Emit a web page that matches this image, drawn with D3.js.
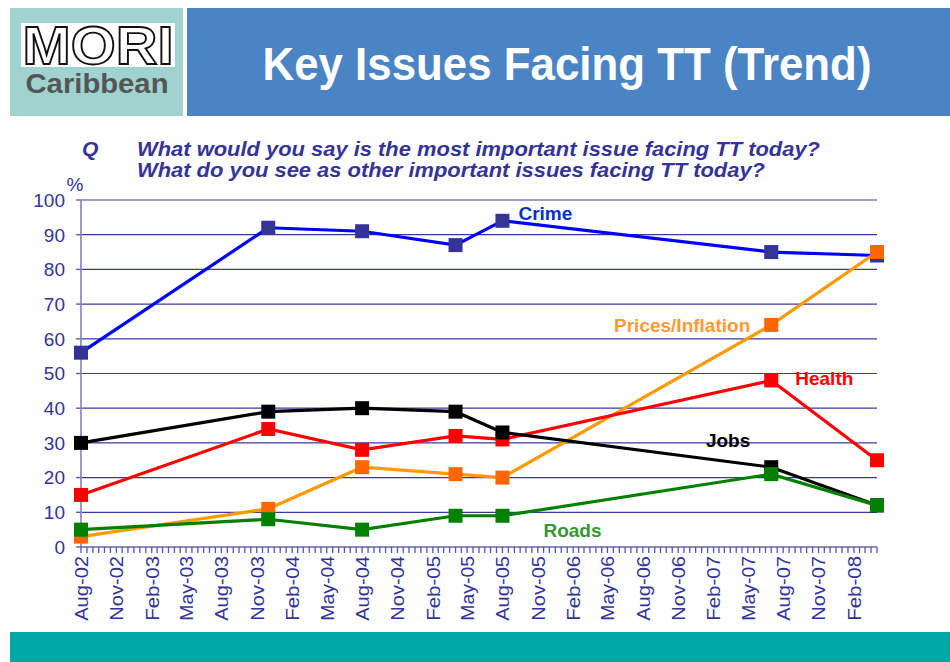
<!DOCTYPE html>
<html><head><meta charset="utf-8">
<script src="https://cdn.jsdelivr.net/npm/d3@7"></script>
<style>body{margin:0;background:#fff;} svg{display:block;font-family:"Liberation Sans",Arial,sans-serif;}</style>
</head><body>
<svg id="c" width="950" height="662"></svg>
<script>
// ---- data ----
const dates = ["2002-08","2003-12","2004-08","2005-04","2005-08","2007-07","2008-04"];
const crime  = [56,92,91,87,94,85,84];
const prices = [3,11,23,21,20,64,85];
const health = [15,34,28,32,31,48,25];
const jobs   = [30,39,40,39,33,23,12];
const roads  = [5,8,5,9,9,21,12];
const seriesNames = ["Crime","Prices/Inflation","Health","Jobs","Roads"];
const yTicks = [0,10,20,30,40,50,60,70,80,90,100];
const axisStart = "2002-08", axisEnd = "2008-04";

const parse = d3.timeParse("%Y-%m");
const fmt = d3.timeFormat("%b-%y");
const svg = d3.select("#c");

// ---- header ----
svg.append("rect").attr("x",10).attr("y",8).attr("width",173).attr("height",108).attr("fill","#A0D2D0");
svg.append("rect").attr("x",187).attr("y",8).attr("width",763).attr("height",108).attr("fill","#4A84C4");
svg.append("rect").attr("x",21).attr("y",23).attr("width",154).attr("height",44).attr("fill","#fff");
svg.append("text").attr("x",98).attr("y",64).attr("text-anchor","middle")
  .attr("font-size",54).attr("font-weight","bold").attr("fill","#fff").attr("stroke","#111").attr("stroke-width",1.8)
  .attr("textLength",151).attr("lengthAdjust","spacingAndGlyphs").text("MORI");
svg.append("text").attr("x",97).attr("y",93).attr("text-anchor","middle")
  .attr("font-size",27).attr("font-weight","bold").attr("fill","#555")
  .attr("textLength",143).attr("lengthAdjust","spacingAndGlyphs").text("Caribbean");
svg.append("text").attr("x",567).attr("y",80).attr("text-anchor","middle")
  .attr("font-size",47).attr("font-weight","bold").attr("fill","#fff")
  .attr("textLength",609).attr("lengthAdjust","spacingAndGlyphs").text("Key Issues Facing TT (Trend)");

// footer
svg.append("rect").attr("x",10).attr("y",632).attr("width",940).attr("height",30).attr("fill","#00A9A6");

// question
const qc = "#333399";
svg.append("text").attr("x",82).attr("y",156).attr("font-size",21).attr("font-weight","bold").attr("font-style","italic").attr("fill",qc).text("Q");
svg.append("text").attr("x",137).attr("y",156).attr("font-size",21).attr("font-weight","bold").attr("font-style","italic").attr("fill",qc)
  .attr("textLength",683).attr("lengthAdjust","spacingAndGlyphs").text("What would you say is the most important issue facing TT today?");
svg.append("text").attr("x",137).attr("y",177).attr("font-size",21).attr("font-weight","bold").attr("font-style","italic").attr("fill",qc)
  .attr("textLength",628).attr("lengthAdjust","spacingAndGlyphs").text("What do you see as other important issues facing TT today?");

// ---- scales ----
const x = d3.scaleTime().domain([parse(axisStart), parse(axisEnd)]).range([81, 877]);
const y = d3.scaleLinear().domain([0,100]).range([547, 200]);

// gridlines
svg.append("g").selectAll("line").data(yTicks.filter(d=>d>0)).join("line")
  .attr("x1",81).attr("x2",877).attr("y1",d=>y(d)).attr("y2",d=>y(d))
  .attr("stroke","#3a3a9c").attr("stroke-width",1.2);

// y axis
svg.append("line").attr("x1",81).attr("x2",81).attr("y1",y(100)).attr("y2",y(0)).attr("stroke","#9a9acc").attr("stroke-width",2);
svg.append("g").selectAll("line").data(yTicks).join("line")
  .attr("x1",76).attr("x2",81).attr("y1",d=>y(d)).attr("y2",d=>y(d)).attr("stroke","#6666b0").attr("stroke-width",1.5);
svg.append("g").selectAll("text").data(yTicks).join("text")
  .attr("x",65).attr("y",d=>y(d)).attr("dy","0.36em").attr("text-anchor","end")
  .attr("font-size",19).attr("fill","#333399").text(d=>d);
svg.append("text").attr("x",75).attr("y",191).attr("text-anchor","middle").attr("font-size",19).attr("fill","#333399").text("%");

// x axis
svg.append("line").attr("x1",81).attr("x2",877).attr("y1",y(0)).attr("y2",y(0)).attr("stroke","#6666b0").attr("stroke-width",1.5);
const months = d3.timeMonth.range(parse(axisStart), d3.timeMonth.offset(parse(axisEnd),1));
const minor = [];
months.forEach((m,i)=>{ minor.push(x(m)); if (i < months.length-1) minor.push((x(m)+x(months[i+1]))/2); });
svg.append("g").selectAll("line").data(minor).join("line")
  .attr("x1",d=>d).attr("x2",d=>d).attr("y1",y(0)).attr("y2",y(0)+6).attr("stroke","#5555aa").attr("stroke-width",1.3);
const majors = months.filter((m,i)=> i%3===0);
svg.append("g").selectAll("text").data(majors).join("text")
  .attr("transform",d=>`translate(${x(d)},556) rotate(-90)`)
  .attr("dy","0.36em").attr("text-anchor","end").attr("font-size",19).attr("fill","#333399")
  .attr("textLength",d=>fmt(d).length*10.8).attr("lengthAdjust","spacingAndGlyphs")
  .text(d=>fmt(d));

// ---- series ----
const series = [
  {name:"Crime", vals:crime, line:"#0000FF", mark:"#333399"},
  {name:"Prices/Inflation", vals:prices, line:"#FF9900", mark:"#FF6600"},
  {name:"Health", vals:health, line:"#FF0000", mark:"#FF0000"},
  {name:"Jobs", vals:jobs, line:"#000000", mark:"#000000"},
  {name:"Roads", vals:roads, line:"#008000", mark:"#008000"}
];
const line = d3.line().x(d=>x(d.date)).y(d=>y(d.v));
series.forEach(s=>{
  const pts = dates.map((d,i)=>({date:parse(d), v:s.vals[i]}));
  const g = svg.append("g");
  g.append("path").datum(pts).attr("d",line).attr("fill","none").attr("stroke",s.line).attr("stroke-width",3.2);
  g.selectAll("rect").data(pts).join("rect")
    .attr("x",d=>x(d.date)-7).attr("y",d=>y(d.v)-7).attr("width",14).attr("height",14).attr("fill",s.mark);
});

// ---- annotations ----
const labels = [
  {t:"Crime", date:"2005-08", v:94, dx:16, dy:-1, c:"#0033CC", a:"start"},
  {t:"Prices/Inflation", date:"2007-07", v:64, dx:-21, dy:7, c:"#FF9933", a:"end"},
  {t:"Health", date:"2007-07", v:48, dx:24, dy:5, c:"#FF0000", a:"start"},
  {t:"Jobs", date:"2007-07", v:23, dx:-21, dy:-20, c:"#000000", a:"end"},
  {t:"Roads", date:"2005-08", v:9, dx:41, dy:21, c:"#339933", a:"start"}
];
svg.append("g").selectAll("text").data(labels).join("text")
  .attr("x",d=>x(parse(d.date))+d.dx).attr("y",d=>y(d.v)+d.dy).attr("text-anchor",d=>d.a)
  .attr("font-size",19).attr("font-weight","bold").attr("fill",d=>d.c).text(d=>d.t);
</script>
</body></html>
